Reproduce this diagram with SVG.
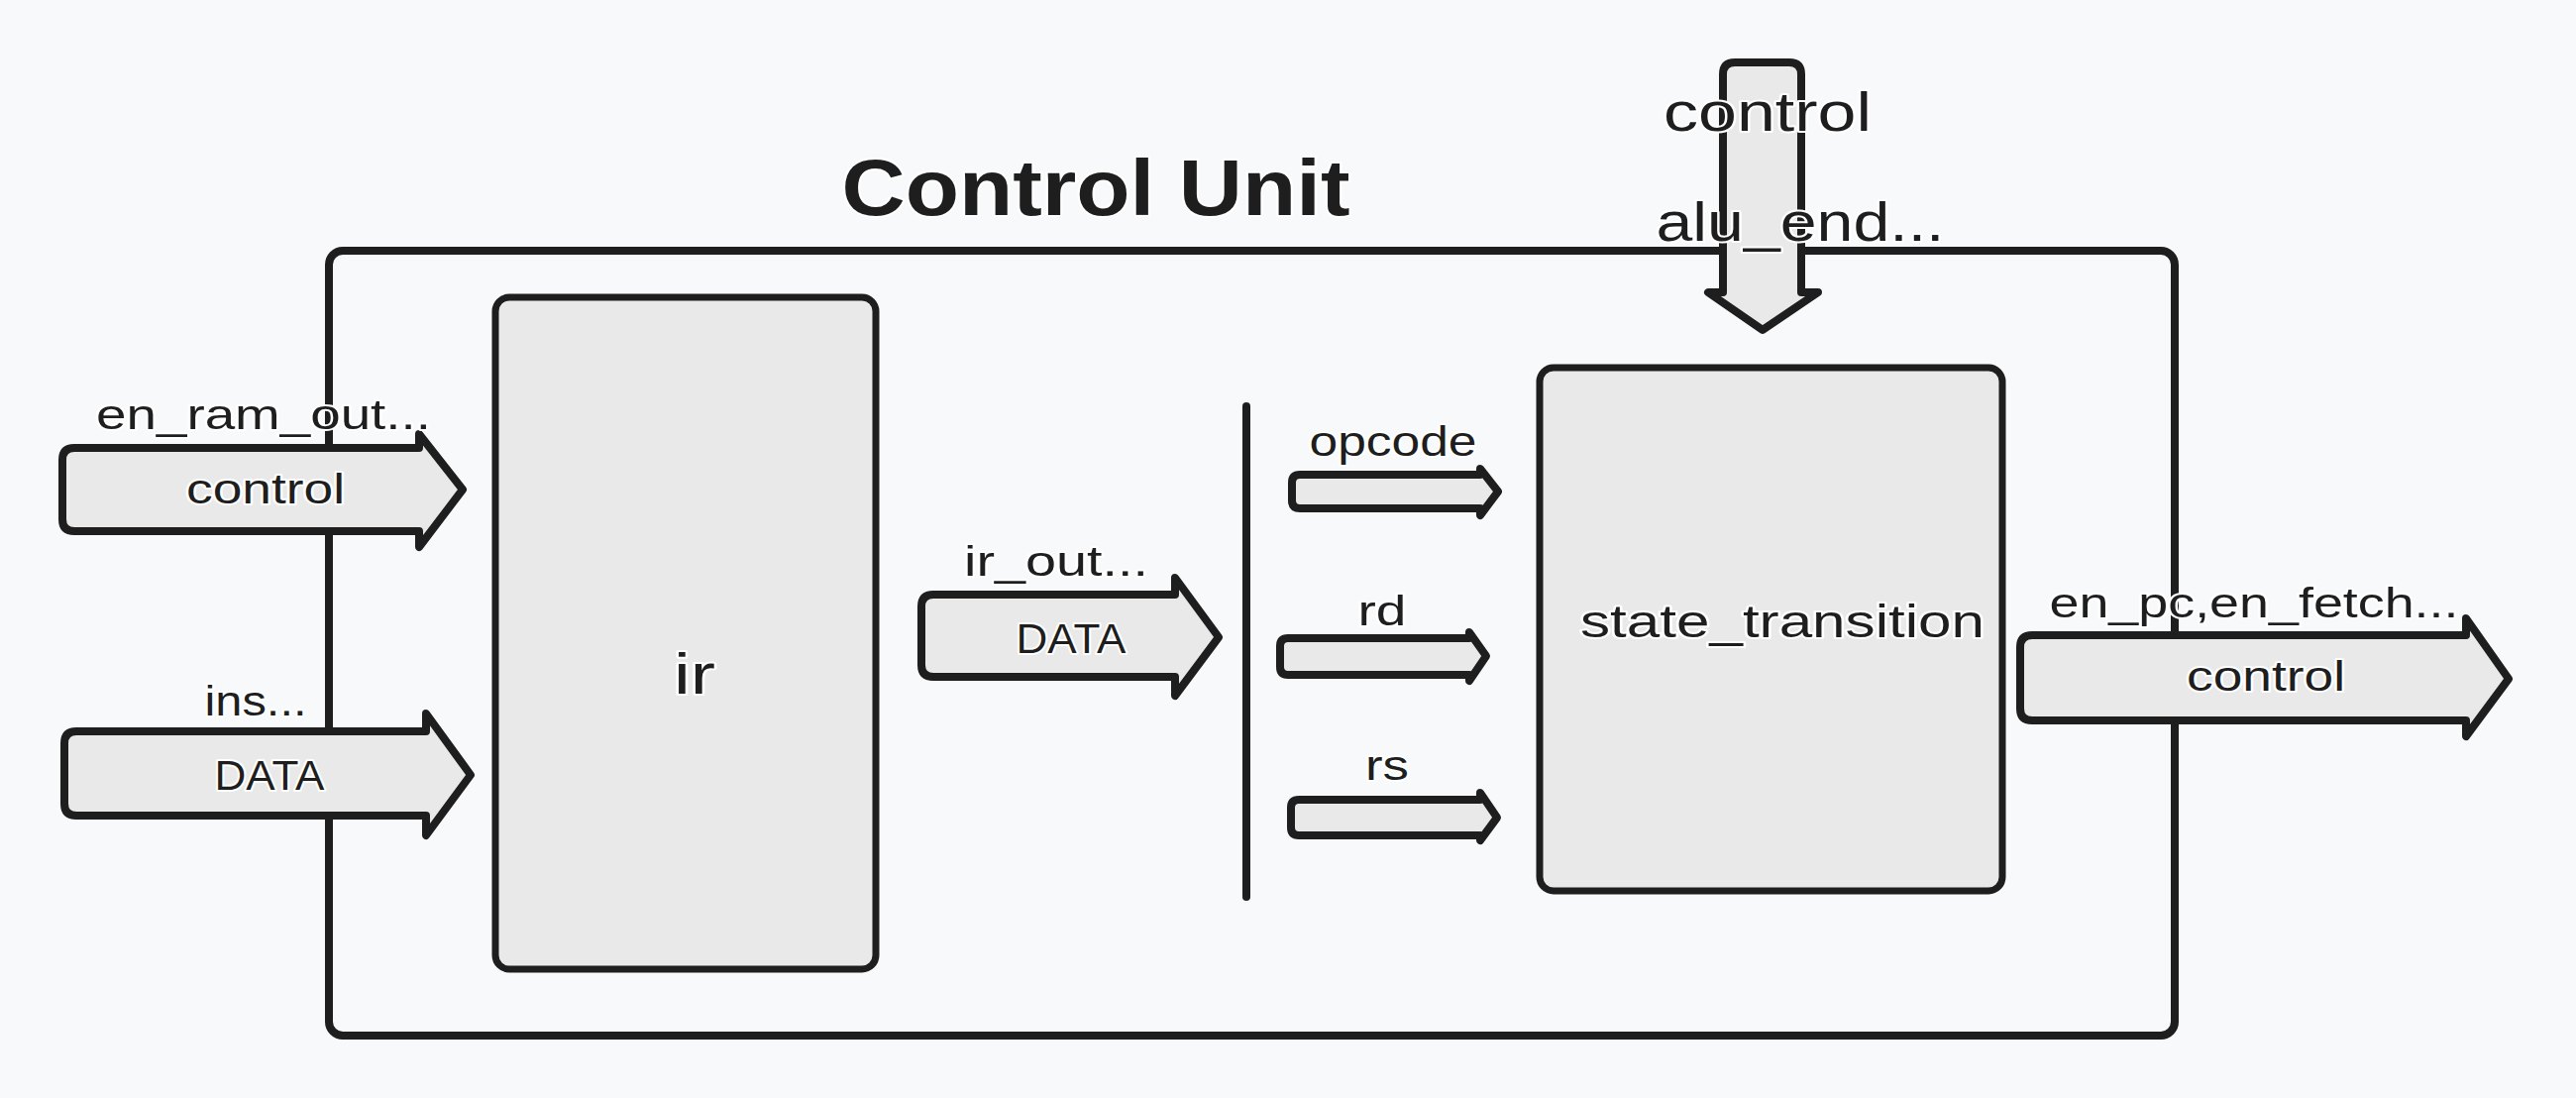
<svg xmlns="http://www.w3.org/2000/svg" width="2600" height="1108" viewBox="0 0 2600 1108">
<style>
.bg{fill:#f8f9fb}
.box{fill:none;stroke:#1e1e1e;stroke-width:8;stroke-linejoin:round}
.blk{fill:#e9e9e9;stroke:#1e1e1e;stroke-width:7;stroke-linejoin:round}
.arr{fill:#e9e9e9;stroke:#1e1e1e;stroke-width:8;stroke-linejoin:round;stroke-linecap:round}
.bar{stroke:#1e1e1e;stroke-width:8;stroke-linecap:round;fill:none}
text{font-family:"Liberation Sans",Arial,sans-serif;fill:#1e1e1e;stroke:#ffffff;stroke-width:4;paint-order:stroke;stroke-linejoin:round;text-anchor:middle;font-size:43px}
.t{font-size:80px;font-weight:bold}
.big{font-size:56px}
.nl{font-size:46px}
.ir{font-size:58px}
</style>
<rect class="bg" x="0" y="0" width="2600" height="1108"/>
<g id="control-unit">
<rect class="box" x="332" y="253" width="1863" height="792" rx="14"/>
<text class="t" x="1106" y="217" textLength="513" lengthAdjust="spacingAndGlyphs">Control Unit</text>
</g>
<g id="ir">
<rect class="blk" x="500" y="300" width="384" height="678" rx="14"/>
<text class="ir" x="701" y="700" textLength="42" lengthAdjust="spacingAndGlyphs">ir</text>
</g>
<g id="state_transition">
<rect class="blk" x="1554" y="371" width="467" height="528" rx="14"/>
<text class="nl" x="1799" y="643" textLength="408" lengthAdjust="spacingAndGlyphs">state_transition</text>
</g>
<g id="splitter">
<line class="bar" x1="1258" y1="410" x2="1258" y2="905"/>
</g>
<g id="connectors">
<g id="in-control">
<path class="arr" d="M75,452 L423,452 L423,438 L467,494 L423,552 L423,536 L75,536 Q63,536 63,524 L63,464 Q63,452 75,452 Z"/>
<text x="266" y="433" textLength="338" lengthAdjust="spacingAndGlyphs">en_ram_out...</text>
<text x="268" y="508" textLength="160" lengthAdjust="spacingAndGlyphs">control</text>
</g>
<g id="in-data">
<path class="arr" d="M77,738 L430,738 L430,720 L475,782 L430,843 L430,823 L77,823 Q65,823 65,811 L65,750 Q65,738 77,738 Z"/>
<text x="258" y="722" textLength="103" lengthAdjust="spacingAndGlyphs">ins...</text>
<text x="272" y="797" textLength="111" lengthAdjust="spacingAndGlyphs">DATA</text>
</g>
<g id="ir-out">
<path class="arr" d="M942,600 L1186,600 L1186,583 L1230,643 L1186,702 L1186,683 L942,683 Q930,683 930,671 L930,612 Q930,600 942,600 Z"/>
<text x="1066" y="581" textLength="186" lengthAdjust="spacingAndGlyphs">ir_out...</text>
<text x="1081" y="659" textLength="111" lengthAdjust="spacingAndGlyphs">DATA</text>
</g>
<g id="opcode">
<path class="arr" d="M1312,479 L1494,479 L1494,473 L1512,496 L1494,520 L1494,513 L1312,513 Q1304,513 1304,505 L1304,487 Q1304,479 1312,479 Z"/>
<text x="1406" y="460" textLength="169" lengthAdjust="spacingAndGlyphs">opcode</text>
</g>
<g id="rd">
<path class="arr" d="M1300,644 L1483,644 L1483,638 L1500,662 L1483,687 L1483,681 L1300,681 Q1292,681 1292,673 L1292,652 Q1292,644 1300,644 Z"/>
<text x="1395" y="631" textLength="49" lengthAdjust="spacingAndGlyphs">rd</text>
</g>
<g id="rs">
<path class="arr" d="M1311,807 L1494,807 L1494,800 L1511,825 L1494,848 L1494,843 L1311,843 Q1303,843 1303,835 L1303,815 Q1303,807 1311,807 Z"/>
<text x="1400" y="787" textLength="44" lengthAdjust="spacingAndGlyphs">rs</text>
</g>
<g id="in-top">
<path class="arr" d="M1739,75 Q1739,63 1751,63 L1806,63 Q1818,63 1818,75 L1818,295 L1835,295 L1779,333 L1724,295 L1739,295 Z"/>
<text class="big" x="1784" y="132" textLength="210" lengthAdjust="spacingAndGlyphs">control</text>
<text class="big" x="1817" y="243" textLength="291" lengthAdjust="spacingAndGlyphs">alu_end...</text>
</g>
<g id="out-control">
<path class="arr" d="M2051,641 L2489,641 L2489,624 L2532,685 L2489,743 L2489,727 L2051,727 Q2039,727 2039,715 L2039,653 Q2039,641 2051,641 Z"/>
<text x="2275" y="623" textLength="413" lengthAdjust="spacingAndGlyphs">en_pc,en_fetch...</text>
<text x="2287" y="697" textLength="160" lengthAdjust="spacingAndGlyphs">control</text>
</g>
</g>
</svg>
